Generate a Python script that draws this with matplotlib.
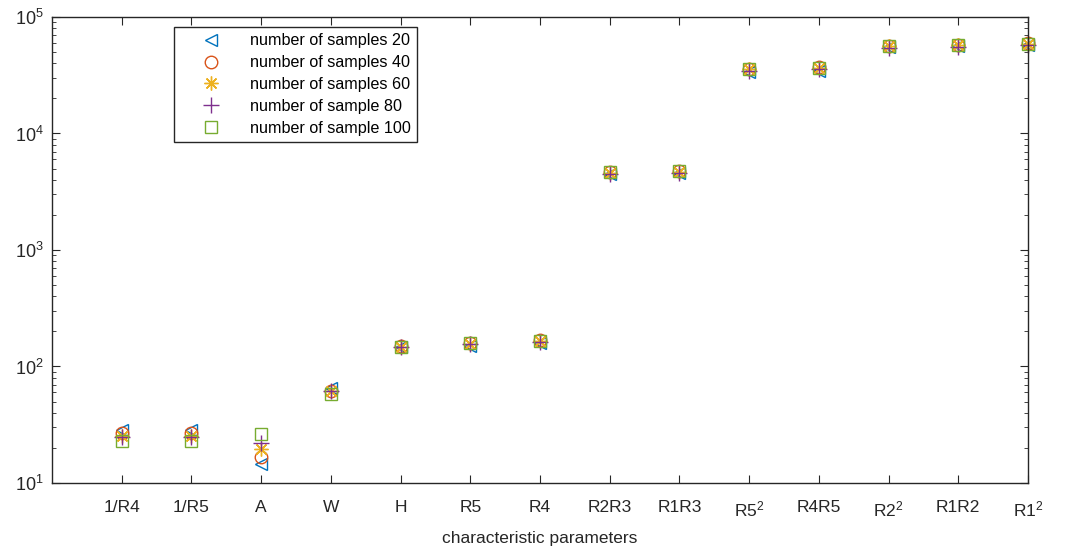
import numpy as np
import matplotlib
matplotlib.use('Agg')
import matplotlib.pyplot as plt

plt.rcParams['font.family'] = ['Liberation Sans', 'DejaVu Sans']
plt.rcParams['mathtext.fontset'] = 'custom'
plt.rcParams['mathtext.rm'] = 'Liberation Sans'
plt.rcParams['mathtext.it'] = 'Liberation Sans:italic'
plt.rcParams['mathtext.default'] = 'regular'

# parametros caracteristicos (eixo x)
parametros = ['1/R4', '1/R5', 'A', 'W', 'H', 'R5', 'R4', 'R2R3', 'R1R3',
              'R5$^2$', 'R4R5', 'R2$^2$', 'R1R2', 'R1$^2$']

amostras_20 = [28.5, 28.5, 14.6, 65, 146, 150, 160, 4500, 4600, 33500, 34500, 55000, 56000, 58000]
amostras_40 = [26.8, 26.8, 16.7, 62, 150, 158, 168, 4650, 4750, 36000, 37000, 56500, 58000, 59500]
amostras_60 = [25.3, 25.3, 19.5, 61, 148, 157, 166, 4600, 4700, 35500, 36500, 56000, 57000, 58500]
amostras_80 = [24.8, 24.8, 22.0, 62, 146, 155, 163, 4500, 4600, 34500, 35500, 54500, 55500, 57000]
amostras_100 = [22.8, 22.8, 26.3, 58, 148, 158, 166, 4650, 4750, 35500, 36500, 56500, 57000, 58500]

legendas = ['number of samples 20', 'number of samples 40', 'number of samples 60',
            'number of sample 80', 'number of sample 100']

cores = ['#0072BD', '#D95319', '#EDB120', '#7E2F8E', '#77AC30']
marcadores = ['<', 'o', (8, 2, 0), '+', 's']
tamanhos = [9, 9, 10, 11, 8]

fig = plt.figure(figsize=(10.70, 5.46), dpi=100)
ax = fig.add_axes([0.0486, 0.1154, 0.9121, 0.8535])

x = np.arange(1, len(parametros) + 1)
series = [amostras_20, amostras_40, amostras_60, amostras_80, amostras_100]
for i in range(len(series)):
    ax.plot(x, series[i], linestyle='none', marker=marcadores[i], markersize=tamanhos[i],
            markerfacecolor='none', markeredgecolor=cores[i], markeredgewidth=1.0,
            label=legendas[i], clip_on=False)

ax.set_yscale('log')
ax.set_ylim(10, 1e5)
ax.set_xlim(0, 14)
ax.set_xticks(x)
ax.set_xticklabels(parametros, fontsize=12.5, color='#262626')
ax.set_xlabel('characteristic parameters', fontsize=12.5, color='#262626', labelpad=8)

ax.tick_params(axis='both', which='both', direction='in', top=True, right=True, colors='#262626')
ax.tick_params(axis='x', which='major', length=6, pad=12)
ax.tick_params(axis='y', which='major', length=6, labelsize=13, pad=6)
ax.tick_params(axis='y', which='minor', length=3)
ax.tick_params(axis='x', which='minor', bottom=False, top=False)
for s in ax.spines.values():
    s.set_color('#262626')
    s.set_linewidth(1.0)

leg = ax.legend(loc='upper left', bbox_to_anchor=(0.125, 0.9785), borderaxespad=0,
                fontsize=11.6, fancybox=False, edgecolor='#262626', framealpha=1,
                borderpad=0.4, handletextpad=0.52, labelspacing=0.42, handlelength=3.8)
leg.get_frame().set_linewidth(1.0)

plt.savefig('out.png', dpi=100)
